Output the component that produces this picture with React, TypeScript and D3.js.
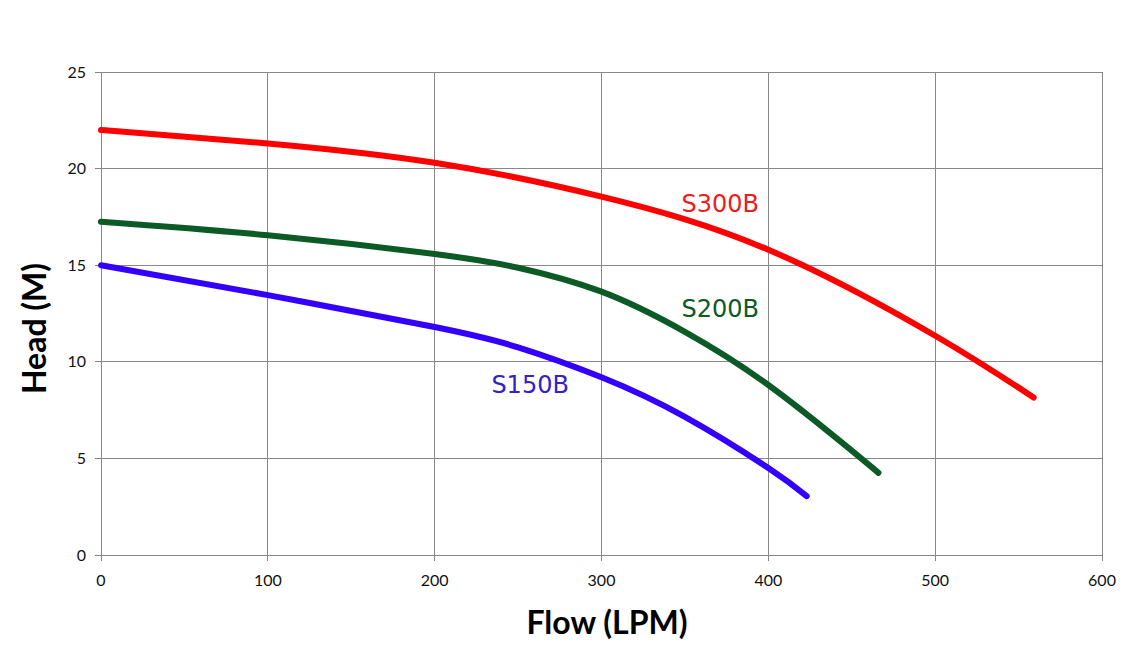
import React, { useEffect, useRef } from 'react';
import * as d3 from 'd3';

// Pump curves: flow (LPM) vs head (M)
const flowS300 = [0, 100, 200, 300, 400, 500, 559];
const headS300 = [22.0, 21.3, 20.3, 18.55, 15.8, 11.35, 8.15];

const flowS200 = [0, 100, 200, 250, 300, 350, 400, 450, 466];
const headS200 = [17.25, 16.55, 15.58, 14.87, 13.63, 11.55, 8.8, 5.4, 4.25];

const flowS150 = [0, 100, 200, 250, 300, 350, 400, 423];
const headS150 = [15.0, 13.45, 11.8, 10.75, 9.2, 7.15, 4.5, 3.05];

const xTicks = [0, 100, 200, 300, 400, 500, 600];
const yTicks = [0, 5, 10, 15, 20, 25];

const series = [
  { name: 'S300B', flow: flowS300, head: headS300, color: '#ff0000', labelColor: '#ee1c1c', labelAt: [348, 17.75] },
  { name: 'S200B', flow: flowS200, head: headS200, color: '#0c5a26', labelColor: '#0c5a26', labelAt: [348, 12.3] },
  { name: 'S150B', flow: flowS150, head: headS150, color: '#3300ff', labelColor: '#3322cc', labelAt: [234, 8.4] },
];

const W = 1130;
const H = 649;

const App: React.FC = () => {
  const svgRef = useRef<SVGSVGElement>(null);

  useEffect(() => {
    if (!svgRef.current) return;
    const svg = d3.select(svgRef.current);
    svg.selectAll('*').remove();

    const margin = { top: 72, right: 28, bottom: 94, left: 101 };
    const iw = W - margin.left - margin.right;
    const ih = H - margin.top - margin.bottom;

    const x = d3.scaleLinear().domain([0, 600]).range([0, iw]);
    const y = d3.scaleLinear().domain([0, 25]).range([ih, 0]);

    const g = svg.append('g').attr('transform', `translate(${margin.left},${margin.top})`);
    const tickFont = 'Lato, "Open Sans", sans-serif';

    // grid
    g.selectAll('.hgrid').data(yTicks).enter().append('line')
      .attr('x1', -6).attr('x2', iw)
      .attr('y1', d => y(d)).attr('y2', d => y(d))
      .attr('stroke', '#888').attr('stroke-width', 1).attr('shape-rendering', 'crispEdges');
    g.selectAll('.vgrid').data(xTicks).enter().append('line')
      .attr('x1', d => x(d)).attr('x2', d => x(d))
      .attr('y1', 0).attr('y2', ih + 6)
      .attr('stroke', '#888').attr('stroke-width', 1).attr('shape-rendering', 'crispEdges');

    // tick labels
    g.selectAll('.ylab').data(yTicks).enter().append('text')
      .attr('x', -15).attr('y', d => y(d) + 5.5)
      .attr('text-anchor', 'end').attr('font-family', tickFont).attr('font-size', 16)
      .attr('fill', '#111').text(d => d);
    g.selectAll('.xlab').data(xTicks).enter().append('text')
      .attr('x', d => x(d)).attr('y', ih + 31)
      .attr('text-anchor', 'middle').attr('font-family', tickFont).attr('font-size', 16)
      .attr('fill', '#111').text(d => d);

    // curves
    const line = d3.line<[number, number]>()
      .curve(d3.curveNatural)
      .x(d => x(d[0]))
      .y(d => y(d[1]));

    series.forEach(s => {
      const pts = s.flow.map((f, i) => [f, s.head[i]] as [number, number]);
      g.append('path')
        .datum(pts)
        .attr('fill', 'none')
        .attr('stroke', s.color)
        .attr('stroke-width', 6)
        .attr('stroke-linecap', 'round')
        .attr('d', line);
      g.append('text')
        .attr('x', x(s.labelAt[0])).attr('y', y(s.labelAt[1]))
        .attr('font-family', '"DejaVu Sans", Verdana, sans-serif')
        .attr('font-size', 24)
        .attr('fill', s.labelColor)
        .text(s.name);
    });

    // axis titles
    svg.append('text')
      .attr('transform', `translate(46,${margin.top + ih / 2 + 15}) rotate(-90)`)
      .attr('text-anchor', 'middle')
      .attr('font-family', tickFont).attr('font-weight', 'bold').attr('font-size', 32)
      .attr('fill', '#000').text('Head (M)');
    svg.append('text')
      .attr('x', 607).attr('y', 634)
      .attr('text-anchor', 'middle')
      .attr('font-family', tickFont).attr('font-weight', 'bold').attr('font-size', 32)
      .attr('fill', '#000').text('Flow (LPM)');
  }, []);

  return (
    <div style={{ position: 'fixed', left: 0, top: 0, width: W, height: H, background: '#fff' }}>
      <svg ref={svgRef} width={W} height={H} style={{ display: 'block' }} />
    </div>
  );
};

export default App;
